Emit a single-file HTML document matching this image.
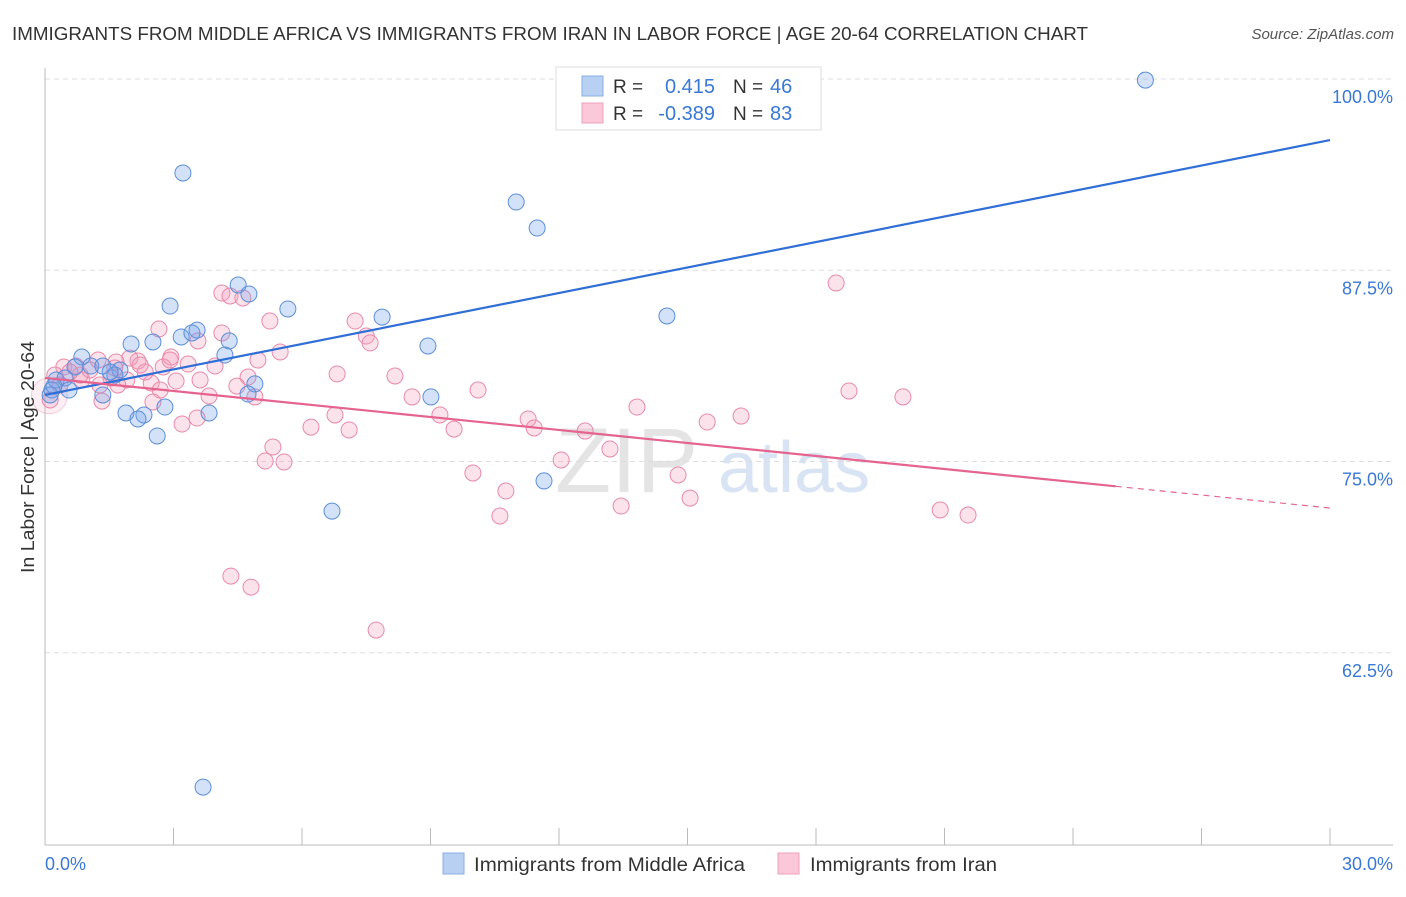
<!DOCTYPE html>
<html><head><meta charset="utf-8"><style>
body{margin:0;background:#fff;font-family:"Liberation Sans",sans-serif;}
svg text{font-family:"Liberation Sans",sans-serif;}
</style></head><body>
<svg id="chart" width="1406" height="892" xmlns="http://www.w3.org/2000/svg">
<text x="12" y="40" font-size="18.8" fill="#333" textLength="1076" lengthAdjust="spacingAndGlyphs">IMMIGRANTS FROM MIDDLE AFRICA VS IMMIGRANTS FROM IRAN IN LABOR FORCE | AGE 20-64 CORRELATION CHART</text>
<text x="1394" y="39" font-size="15" fill="#555" font-style="italic" text-anchor="end">Source: ZipAtlas.com</text>
<text x="555" y="492" font-size="92" fill="#e4e4e4" font-family="Liberation Serif">ZIP</text>
<text x="718" y="492" font-size="72" fill="#d8e4f4">atlas</text>
<g id="grid"></g>
<g id="axes"></g>
<g id="marks"></g>
<text transform="translate(34,457) rotate(-90)" font-size="18.5" fill="#333" text-anchor="middle" textLength="232" lengthAdjust="spacingAndGlyphs">In Labor Force | Age 20-64</text>
<g>
<rect x="556" y="67" width="265" height="63" fill="#fff" stroke="#ddd"/>
<rect x="582" y="76" width="21" height="20" fill="#b8d0f2" stroke="#88aee6"/>
<rect x="582" y="103" width="21" height="20" fill="#fac8d8" stroke="#eea0bb"/>
<text x="613" y="93" font-size="19" fill="#333">R =</text>
<text x="715" y="93" font-size="20" fill="#3a78d6" text-anchor="end">0.415</text>
<text x="733" y="93" font-size="19" fill="#333">N =</text>
<text x="770" y="93" font-size="20" fill="#3a78d6">46</text>
<text x="613" y="120" font-size="19" fill="#333">R =</text>
<text x="715" y="120" font-size="20" fill="#3a78d6" text-anchor="end">-0.389</text>
<text x="733" y="120" font-size="19" fill="#333">N =</text>
<text x="770" y="120" font-size="20" fill="#3a78d6">83</text>
</g>
<g>
<rect x="443" y="853" width="21" height="21" fill="#b8d0f2" stroke="#88aee6"/>
<text x="474" y="871" font-size="19.5" fill="#333" textLength="271" lengthAdjust="spacingAndGlyphs">Immigrants from Middle Africa</text>
<rect x="778" y="853" width="21" height="21" fill="#fac8d8" stroke="#eea0bb"/>
<text x="810" y="871" font-size="19.5" fill="#333" textLength="187" lengthAdjust="spacingAndGlyphs">Immigrants from Iran</text>
</g>
</svg>
<script>
const blueX=[25.69,3.22,11.0,11.49,4.51,4.76,2.92,5.67,7.87,14.52,3.55,3.18,4.30,2.01,2.52,8.94,4.20,0.86,1.07,0.70,1.35,1.75,1.63,0.26,0.47,4.90,0.16,0.56,1.35,4.74,9.01,2.80,1.89,3.83,2.31,2.17,2.62,11.65,6.70,3.69,0.12,0.21,1.52,3.43];
const blueY=[99.93,93.86,91.96,90.26,86.54,85.95,85.16,84.97,84.44,84.51,83.59,83.14,82.88,82.68,82.81,82.55,81.96,81.83,81.24,81.18,81.24,80.98,80.65,80.33,80.46,80.07,79.67,79.67,79.35,79.41,79.22,78.56,78.17,78.17,78.04,77.78,76.67,73.73,71.76,53.72,79.35,79.93,80.85,83.40];
const pinkX=[18.47,4.13,4.32,4.62,5.25,7.24,2.66,4.13,7.50,3.57,7.59,5.49,2.94,4.97,2.17,1.98,1.24,1.66,0.72,0.44,3.34,3.97,2.76,6.82,8.17,4.74,0.23,1.54,1.91,0.86,3.06,2.48,4.48,10.11,18.77,20.03,8.57,3.83,1.33,4.90,2.52,13.82,6.77,9.22,11.28,16.25,15.46,3.20,3.55,6.21,7.10,9.55,11.42,12.61,13.19,5.32,5.14,5.58,12.05,9.99,14.78,10.76,15.06,13.45,10.62,20.90,21.55,4.34,4.81,7.73,0.12,0.35,0.82,2.34,1.63,2.92,1.28,1.05,3.62,2.22,0.58,1.70,2.69];
const pinkY=[86.67,86.01,85.82,85.69,84.18,84.18,83.66,83.40,83.20,82.88,82.75,82.16,81.83,81.63,81.57,81.76,81.63,81.50,81.24,81.18,81.37,81.24,81.18,80.72,80.59,80.52,80.65,80.46,80.33,80.33,80.26,80.13,79.93,79.67,79.61,79.22,79.22,79.28,78.95,79.22,78.89,78.56,78.04,78.04,77.78,77.97,77.58,77.45,77.84,77.25,77.06,77.12,77.19,76.99,75.82,75.95,75.03,74.97,75.10,74.25,74.12,73.07,72.61,72.09,71.44,71.83,71.50,67.51,66.79,63.98,79.02,80.0,80.65,80.85,81.11,81.63,80.0,80.98,80.33,81.31,80.85,80.0,79.67];
const blueTrend=[79.35,96.01];   // y at x=0, x=30
const pinkTrend=[80.46,71.96];   // y at x=0, x=30
const pinkSolidEnd=25.0;
const yTicks=[100,87.5,75,62.5];
const yTickLabels=["100.0%","87.5%","75.0%","62.5%"];
const xTicks=[0,3,6,9,12,15,18,21,24,27,30];
const xTickLabels=["0.0%","30.0%"];

const NS="http://www.w3.org/2000/svg";
const X=v=>45+v/30*1285;
const Y=v=>79+(100-v)*15.3;
function mk(tag,attrs,parent){const e=document.createElementNS(NS,tag);for(const k in attrs)e.setAttribute(k,attrs[k]);document.getElementById(parent).appendChild(e);return e;}

yTicks.forEach((t,i)=>{
  const g=mk('line',{x1:45,x2:1393,y1:Y(t),y2:Y(t),stroke:'#ddd','stroke-dasharray':'5,4'},'grid');
  
  
  const l=mk('text',{x:1393,y:Y(t)+24,'font-size':18,fill:'#3a78d6','text-anchor':'end'},'grid');
  l.textContent=yTickLabels[i];
  
  
});
const ax=mk('line',{x1:45,x2:1393,y1:845,y2:845,stroke:'#bbb'},'axes');


const ay=mk('line',{x1:45,x2:45,y1:68,y2:845,stroke:'#bbb'},'axes');


xTicks.forEach(t=>{
  const e=mk('line',{x1:X(t),x2:X(t),y1:828,y2:845,stroke:'#bbb'},'axes');
  
  
});
const xl0=mk('text',{x:45,y:870,'font-size':18,fill:'#3a78d6'},'axes');
xl0.textContent=xTickLabels[0];


const xl1=mk('text',{x:1393,y:870,'font-size':18,fill:'#3a78d6','text-anchor':'end'},'axes');
xl1.textContent=xTickLabels[1];



const big=mk('circle',{cx:X(0.1),cy:Y(79.3),r:18,fill:'rgba(240,150,180,0.15)',stroke:'rgba(232,138,170,0.4)'},'marks');



pinkX.forEach((x,i)=>{
  const c=mk('circle',{cx:X(x),cy:Y(pinkY[i]),r:8,fill:'rgba(244,160,190,0.3)',stroke:'#e88aaa','stroke-width':1},'marks');
  
  
});
blueX.forEach((x,i)=>{
  const c=mk('circle',{cx:X(x),cy:Y(blueY[i]),r:8,fill:'rgba(110,160,235,0.3)',stroke:'#5b8fd9','stroke-width':1},'marks');
  
  
});
const bl=mk('line',{x1:X(0),y1:Y(blueTrend[0]),x2:X(30),y2:Y(blueTrend[1]),stroke:'#2f6fd6','stroke-width':2.2},'marks');


const pAt=x=>pinkTrend[0]+(pinkTrend[1]-pinkTrend[0])*x/30;
const pl=mk('line',{x1:X(0),y1:Y(pAt(0)),x2:X(pinkSolidEnd),y2:Y(pAt(pinkSolidEnd)),stroke:'#e5648f','stroke-width':2.2},'marks');


const pd=mk('line',{x1:X(pinkSolidEnd),y1:Y(pAt(pinkSolidEnd)),x2:X(30),y2:Y(pAt(30)),stroke:'#e5648f','stroke-width':1.2,'stroke-dasharray':'6,5'},'marks');


</script>
</body></html>
